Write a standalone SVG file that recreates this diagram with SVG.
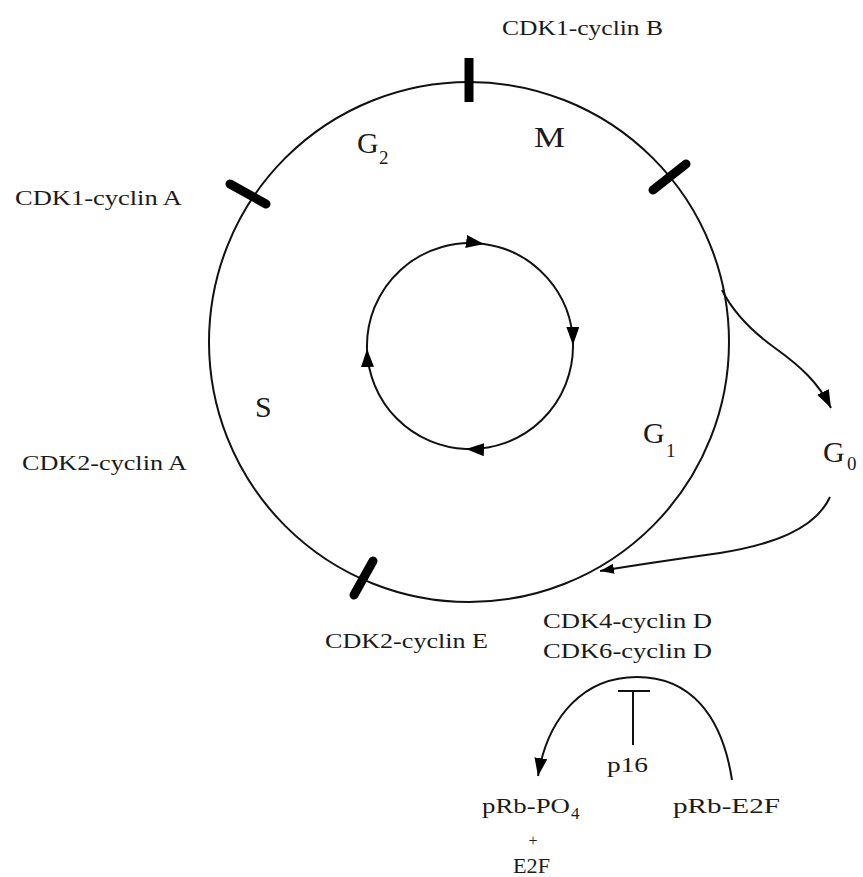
<svg xmlns="http://www.w3.org/2000/svg" width="863" height="877" viewBox="0 0 863 877">
<style>
text{font-family:"Liberation Serif","Times New Roman",serif;fill:#1a1a1a}
.lbl{font-size:22px}
.ph{font-size:30px}
.sub{font-size:19px}
.ln{fill:none;stroke:#111;stroke-width:2}
.tick{stroke:#000;stroke-width:9;stroke-linecap:round}
</style>
<defs>
<marker id="ah" markerUnits="userSpaceOnUse" markerWidth="20" markerHeight="14" refX="18" refY="6.5" orient="auto">
<path d="M0,0 L18,6.5 L0,13 z" fill="#000"/>
</marker>
<marker id="ahs" markerUnits="userSpaceOnUse" markerWidth="16" markerHeight="12" refX="14" refY="5" orient="auto">
<path d="M0,0 L14,5 L0,10 z" fill="#000"/>
</marker>
</defs>
<rect width="863" height="877" fill="#fff"/>

<g id="cell-cycle">
<circle cx="469" cy="342" r="260" class="ln"/>
</g>

<g id="inner-cycle">
<path class="ln" d="M367,349 A103,103 0 0 1 484,244 A103,103 0 0 1 573,345 A103,103 0 0 1 466,449 A103,103 0 0 1 367,349" marker-mid="url(#ah)" marker-end="url(#ah)"/>
</g>

<g id="checkpoints">
<line class="tick" x1="469" y1="58" x2="469" y2="102" style="stroke-linecap:butt"/>
<line class="tick" x1="230" y1="184" x2="266" y2="204"/>
<line class="tick" x1="653" y1="190" x2="686" y2="164"/>
<line class="tick" x1="354" y1="595" x2="373" y2="561"/>
</g>

<g id="phase-M"><text class="ph" x="534" y="147" textLength="31" lengthAdjust="spacingAndGlyphs">M</text></g>
<g id="phase-G2"><text class="ph" x="357" y="153">G</text><text class="sub" x="379" y="164">2</text></g>
<g id="phase-S"><text class="ph" x="255" y="417">S</text></g>
<g id="phase-G1"><text class="ph" x="643" y="443">G</text><text class="sub" x="666" y="457">1</text></g>
<g id="phase-G0"><text class="ph" x="823" y="462">G</text><text class="sub" x="847" y="470">0</text></g>

<g id="label-cdk1-cyclinB"><text class="lbl" x="502" y="35" textLength="161" lengthAdjust="spacingAndGlyphs">CDK1-cyclin B</text></g>
<g id="label-cdk1-cyclinA"><text class="lbl" x="15" y="205" textLength="167" lengthAdjust="spacingAndGlyphs">CDK1-cyclin A</text></g>
<g id="label-cdk2-cyclinA"><text class="lbl" x="22" y="470" textLength="165" lengthAdjust="spacingAndGlyphs">CDK2-cyclin A</text></g>
<g id="label-cdk2-cyclinE"><text class="lbl" x="325" y="648" textLength="163" lengthAdjust="spacingAndGlyphs">CDK2-cyclin E</text></g>
<g id="label-cdk46-cyclinD">
<text class="lbl" x="543" y="628" textLength="169" lengthAdjust="spacingAndGlyphs">CDK4-cyclin D</text>
<text class="lbl" x="543" y="658" textLength="169" lengthAdjust="spacingAndGlyphs">CDK6-cyclin D</text>
</g>
<g id="p16"><text class="lbl" x="607" y="772" textLength="41" lengthAdjust="spacingAndGlyphs">p16</text></g>
<g id="pRb-PO4">
<text class="lbl" x="482" y="813" textLength="88" lengthAdjust="spacingAndGlyphs">pRb-PO</text>
<text style="font-size:17px" x="571" y="819">4</text>
<text style="font-size:16px" x="533" y="846" text-anchor="middle">+</text>
<text class="lbl" x="513" y="873" textLength="37" lengthAdjust="spacingAndGlyphs">E2F</text>
</g>
<g id="pRb-E2F"><text class="lbl" x="673" y="813" textLength="107" lengthAdjust="spacingAndGlyphs">pRb-E2F</text></g>

<g id="connectors">
<path class="ln" d="M722,290 C732,310 750,330 775,348 C800,366 818,382 831,408" marker-end="url(#ah)"/>
<path class="ln" d="M830,497 C815,530 770,545 720,553 C670,560 630,566 600,571" marker-end="url(#ahs)"/>
<path class="ln" d="M732,780 C722,715 690,677 637,677 C585,677 548,715 538,776" marker-end="url(#ah)"/>
<line class="ln" x1="633" y1="691" x2="633" y2="745"/>
<line class="ln" x1="618" y1="691" x2="650" y2="691"/>
</g>
</svg>
